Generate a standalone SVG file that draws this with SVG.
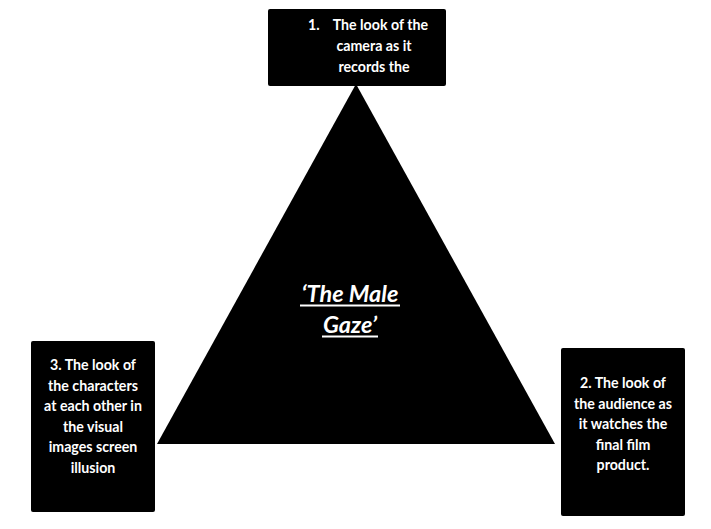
<svg xmlns="http://www.w3.org/2000/svg" width="711" height="529" viewBox="0 0 711 529">
<style>
.box{fill:#000;}
.t{font-family:Lato,"Open Sans","Liberation Sans",sans-serif;font-weight:bold;font-size:14.2px;fill:#fff;text-anchor:middle;}
.c{font-family:Lato,"Open Sans","Liberation Sans",sans-serif;font-weight:bold;font-style:italic;font-size:23.5px;fill:#fff;text-anchor:middle;}
.u{stroke:#fff;stroke-width:2;}
</style>
<rect width="711" height="529" fill="#fff"/>
<g id="connectors"></g>
<g id="triangle">
<polygon points="356,84 157,444 555,444" fill="#000"/>
<text class="c" x="350" y="302">‘The Male</text>
<line class="u" x1="300" y1="305.5" x2="400" y2="305.5"/>
<text class="c" x="350" y="333">Gaze’</text>
<line class="u" x1="322" y1="336.5" x2="378" y2="336.5"/>
</g>
<g id="node1">
<rect class="box" x="268" y="9" width="178" height="77" rx="2"/>
<text class="t" x="368" y="30">1.<tspan dx="14">The look of the</tspan></text>
<text class="t" x="374" y="51">camera as it</text>
<text class="t" x="374" y="72">records the</text>
</g>
<g id="node3">
<rect class="box" x="31" y="341" width="124" height="171" rx="2"/>
<text class="t" x="93" y="370">3. The look of</text>
<text class="t" x="93" y="391">the characters</text>
<text class="t" x="93" y="411">at each other in</text>
<text class="t" x="93" y="432">the visual</text>
<text class="t" x="93" y="452">images screen</text>
<text class="t" x="93" y="473">illusion</text>
</g>
<g id="node2">
<rect class="box" x="561" y="348" width="124" height="168" rx="2"/>
<text class="t" x="623" y="388">2. The look of</text>
<text class="t" x="623" y="409">the audience as</text>
<text class="t" x="623" y="429">it watches the</text>
<text class="t" x="623" y="450">final film</text>
<text class="t" x="623" y="470">product.</text>
</g>
</svg>
